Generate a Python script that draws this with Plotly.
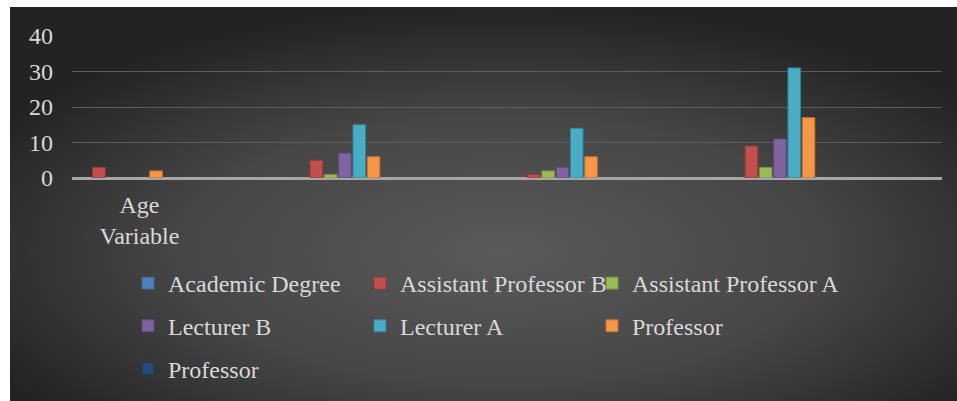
import base64
import plotly.graph_objects as go

# ---- data ----
categories = ["Age Variable", "Group 2", "Group 3", "Group 4"]
category_labels = ["Age<br>Variable", "", "", ""]
series_names = ["Academic Degree", "Assistant Professor B", "Assistant Professor A",
                "Lecturer B", "Lecturer A", "Professor", "Professor"]
academic_degree = [None, None, None, None]
assistant_professor_b = [3, 5, 1, 9]
assistant_professor_a = [None, 1, 2, 3]
lecturer_b = [None, 7, 3, 11]
lecturer_a = [None, 15, 14, 31]
professor = [2, 6, 6, 17]
professor_2 = [None, None, None, None]
y_ticks = [0, 10, 20, 30, 40]

series_values = [academic_degree, assistant_professor_b, assistant_professor_a,
                 lecturer_b, lecturer_a, professor, professor_2]
colors = ["#4f81bd", "#c0504d", "#9bbb59", "#8064a2", "#4bacc6", "#f79646", "#254a78"]
edge_colors = ["#3a6496", "#963c3a", "#76923c", "#5f4a7b", "#31859c", "#c0702e", "#17365d"]
# column placement of legend entries (Excel wraps into 3 columns)
legend_cols = ["legend", "legend2", "legend3", "legend", "legend2", "legend3", "legend"]

FONT = "Liberation Serif"
TXT = "#d9d9d9"

W, H = 957, 401
L, R, T, B = 72, 15, 36, 223
pw, ph = W - L - R, H - T - B

fig = go.Figure()
for i, (name, vals) in enumerate(zip(series_names, series_values)):
    fig.add_trace(go.Bar(
        x=categories, y=vals, name=name,
        marker=dict(color=colors[i], line=dict(color=edge_colors[i], width=1)),
        legend=legend_cols[i], legendgroup=f"g{i}",
    ))

# gradient background as svg image
svg = f'''<svg xmlns="http://www.w3.org/2000/svg" width="947" height="394" viewBox="0 0 947 394" preserveAspectRatio="none">
<defs><radialGradient id="g" cx="52%" cy="62%" r="62%">
<stop offset="0" stop-color="#5a5a5a"/><stop offset="0.55" stop-color="#464646"/><stop offset="1" stop-color="#232323"/>
</radialGradient></defs><rect width="947" height="394" fill="url(#g)"/></svg>'''
uri = "data:image/svg+xml;base64," + base64.b64encode(svg.encode()).decode()

bx0, by0, bx1, by1 = 10, 7, 957, 401
fig.add_layout_image(dict(
    source=uri, xref="paper", yref="paper",
    x=(bx0 - L) / pw, y=(H - B - by0) / ph,
    sizex=(bx1 - bx0) / pw, sizey=(by1 - by0) / ph,
    xanchor="left", yanchor="top", sizing="stretch", layer="below",
))

leg_common = dict(orientation="v", font=dict(family=FONT, size=24, color=TXT),
                  bgcolor="rgba(0,0,0,0)", tracegroupgap=8.5, xanchor="left",
                  yanchor="top", yref="paper", itemclick=False)
ly = (H - B - 261) / ph
fig.update_layout(
    width=W, height=H,
    margin=dict(l=L, r=R, t=T, b=B, autoexpand=False),
    paper_bgcolor="white", plot_bgcolor="rgba(0,0,0,0)",
    barmode="group", bargap=0.54, bargroupgap=0.12,
    font=dict(family=FONT, size=24, color=TXT),
    legend=dict(x=(128 - L) / pw, y=ly, **leg_common),
    legend2=dict(x=(360 - L) / pw, y=ly, **leg_common),
    legend3=dict(x=(592 - L) / pw, y=ly, **leg_common),
    xaxis=dict(type="category", range=[-0.255, 3.745],
               tickvals=categories,
               ticktext=["\u00a0\u00a0\u00a0\u00a0Age<br>\u00a0\u00a0\u00a0\u00a0Variable", "", "", ""],
               showgrid=False, showline=False, zeroline=False, ticks="",
               ticklabelstandoff=10,
               tickfont=dict(family=FONT, size=24, color=TXT)),
    yaxis=dict(range=[0, 40], tickvals=y_ticks, showgrid=True, gridcolor="#5c5c5c",
               gridwidth=1, zeroline=True, zerolinecolor="#a6a6a6", zerolinewidth=3,
               showline=False, ticks="", ticklabelstandoff=18,
               tickfont=dict(family=FONT, size=24, color=TXT)),
)

fig.write_html("out.html", config={"displayModeBar": False},
               post_script="document.body.style.margin='0';")
